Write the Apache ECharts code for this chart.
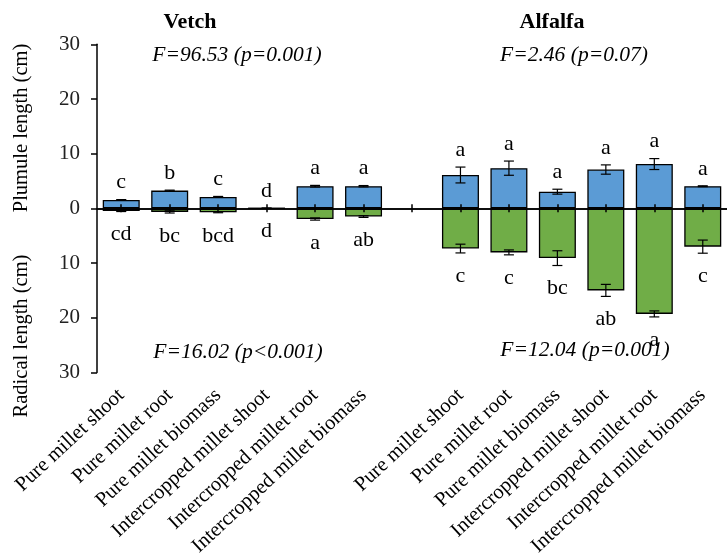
<!DOCTYPE html>
<html>
<head>
<meta charset="utf-8">
<script src="https://cdn.jsdelivr.net/npm/echarts@6/dist/echarts.min.js"></script>
<style>html,body{margin:0;padding:0;background:#fff;}#c{width:727px;height:559px;}</style>
</head>
<body>
<div id="c"></div>
<script>
const categories = ['Pure millet shoot','Pure millet root','Pure millet biomass','Intercropped millet shoot','Intercropped millet root','Intercropped millet biomass','',
  'Pure millet shoot','Pure millet root','Pure millet biomass','Intercropped millet shoot','Intercropped millet root','Intercropped millet biomass'];
const plumule =    [1.55, 3.25, 2.1, 0, 4.05, 4.05, null, 6.1, 7.35, 3.05, 7.1, 8.1, 4.05];
const plumuleErr = [0.05, 0.08, 0.08, 0, 0.15, 0.12, null, 1.45, 1.3, 0.45, 0.85, 1.0, 0.08];
const radical =    [0.5, 0.65, 0.7, 0, 1.95, 1.5, null, 7.35, 8.05, 9.1, 15.0, 19.3, 7.0];
const radicalErr = [0.08, 0.2, 0.1, 0, 0.2, 0.15, null, 0.8, 0.45, 1.35, 1.1, 0.55, 1.2];
const plumuleLetters = ['c','b','c','d','a','a','','a','a','a','a','a','a'];
const radicalLetters = ['cd','bc','bcd','d','a','ab','','c','c','bc','ab','a','c'];
const yTicks = [-30, -20, -10, 0, 10, 20, 30];

const FONT = '"Liberation Serif", "Times New Roman", serif';
const chart = echarts.init(document.getElementById('c'), null, {renderer: 'canvas'});

const errPlu = [], errRad = [], letPlu = [], letRad = [];
categories.forEach((c, i) => {
  if (plumule[i] == null) return;
  errPlu.push([i, plumule[i], plumuleErr[i]]);
  errRad.push([i, -radical[i], radicalErr[i]]);
  letPlu.push([i, plumule[i] + plumuleErr[i], i]);
  letRad.push([i, -(radical[i] + radicalErr[i]), i]);
});

function errRender(params, api) {
  const i = api.value(0), v = api.value(1), e = api.value(2);
  const a = api.coord([i, v + e]), b = api.coord([i, v - e]);
  const h = 5;
  const st = {stroke: '#000', lineWidth: 1.2};
  return {type: 'group', children: [
    {type: 'line', shape: {x1: a[0], y1: a[1], x2: b[0], y2: b[1]}, style: st},
    {type: 'line', shape: {x1: a[0]-h, y1: a[1], x2: a[0]+h, y2: a[1]}, style: st},
    {type: 'line', shape: {x1: b[0]-h, y1: b[1], x2: b[0]+h, y2: b[1]}, style: st}
  ]};
}
function letterRender(letters, dy) {
  return function(params, api) {
    const i = api.value(0), v = api.value(1);
    const p = api.coord([i, v]);
    return {type: 'text', x: p[0], y: p[1] + dy, style: {
      text: letters[api.value(2)], font: '22px ' + FONT, fill: '#000',
      align: 'center', verticalAlign: 'middle'}};
  };
}

const txt = (text, x, y, opts) => Object.assign({
  type: 'text', x: x, y: y,
  style: Object.assign({text: text, font: 'italic 21.5px ' + FONT, fill: '#000', align: 'center', verticalAlign: 'middle'}, (opts && opts.style) || {})
}, opts && opts.rotation ? {rotation: opts.rotation} : {});

const yMin = yTicks[0], yMax = yTicks[yTicks.length-1];

chart.setOption({
  animation: false,
  grid: {left: 97, top: 44.3, width: 633.75, height: 328.4, containLabel: false},
  xAxis: [
    {type: 'category', data: categories, position: 'bottom',
     axisLine: {show: false, onZero: false}, axisTick: {show: false},
     axisLabel: {interval: 0, rotate: 43, margin: 20, fontFamily: FONT, fontSize: 20.5, color: '#000'}},
    {type: 'category', data: categories, position: 'bottom', z: 10,
     axisLine: {show: true, onZero: true, onZeroAxisIndex: 0, lineStyle: {color: '#000', width: 1.5}},
     axisTick: {show: true, inside: true, alignWithLabel: true, interval: 0, length: 4, lineStyle: {color: '#000', width: 1.5}},
     axisLabel: {show: false}},
    {type: 'category', data: categories, position: 'bottom', z: 10,
     axisLine: {show: true, onZero: true, onZeroAxisIndex: 1, lineStyle: {color: '#000', width: 1.5}},
     axisTick: {show: true, inside: false, alignWithLabel: true, interval: 0, length: 4, lineStyle: {color: '#000', width: 1.5}},
     axisLabel: {show: false}}
  ],
  yAxis: [
    {type: 'value', min: yMin, max: yMax, interval: 10, z: 10,
     axisLine: {show: true, lineStyle: {color: '#000', width: 1.5}},
     axisTick: {show: true, length: 6, lineStyle: {color: '#000', width: 1.5}},
     splitLine: {show: false},
     axisLabel: {margin: 17, fontFamily: FONT, fontSize: 21, color: '#222', formatter: v => String(Math.abs(v))}},
    {type: 'value', min: yMin, max: yMax, interval: 10, position: 'left',
     axisLine: {show: false}, axisTick: {show: false}, axisLabel: {show: false}, splitLine: {show: false}}
  ],
  series: [
    {type: 'bar', name: 'Plumule', data: plumule, barWidth: 37, barGap: '-100%',
     itemStyle: {color: '#5B9BD5', borderColor: '#000', borderWidth: 1.3}},
    {type: 'bar', name: 'Radical', data: radical.map(v => v == null ? null : -v), barWidth: 37, barGap: '-100%',
     itemStyle: {color: '#70AD47', borderColor: '#000', borderWidth: 1.3}},
    {type: 'custom', data: errPlu, renderItem: errRender, z: 5},
    {type: 'custom', data: errRad, renderItem: errRender, z: 5},
    {type: 'custom', data: letPlu, renderItem: letterRender(plumuleLetters, -17), z: 5},
    {type: 'custom', data: letRad, renderItem: letterRender(radicalLetters, 23), z: 5}
  ],
  graphic: [
    txt('Vetch', 190, 22, {style: {font: 'bold 22px ' + FONT}}),
    txt('Alfalfa', 552, 22, {style: {font: 'bold 22px ' + FONT}}),
    txt('F=96.53 (p=0.001)', 237, 55),
    txt('F=2.46 (p=0.07)', 574, 55),
    txt('F=16.02 (p<0.001)', 238, 352),
    txt('F=12.04 (p=0.001)', 585, 350),
    txt('Plumule length (cm)', 22, 128, {rotation: Math.PI/2, style: {font: '20.5px ' + FONT}}),
    txt('Radical length (cm)', 22, 336, {rotation: Math.PI/2, style: {font: '20.5px ' + FONT}})
  ]
});
</script>
</body>
</html>
